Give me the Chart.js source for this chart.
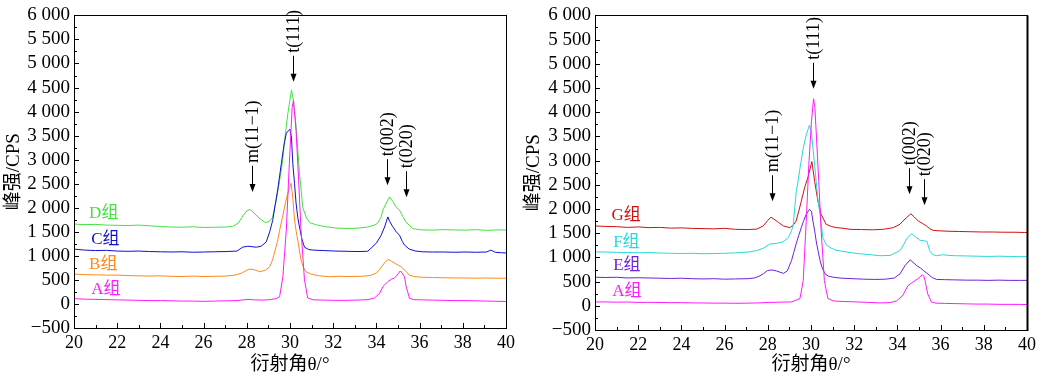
<!DOCTYPE html>
<html>
<head>
<meta charset="utf-8">
<script src="https://cdn.jsdelivr.net/npm/chart.js@4"></script>
<style>
  html, body { margin: 0; padding: 0; background: #fff; }
  body { width: 1046px; height: 376px; position: relative; overflow: hidden; }
  canvas { position: absolute; top: 0; }
  #leftChart { left: 0; }
  #rightChart { left: 520px; }
</style>
</head>
<body>
<canvas id="leftChart" width="520" height="376"></canvas>
<canvas id="rightChart" width="526" height="376"></canvas>
<script>
// XRD patterns
const FONT = "'Liberation Serif', 'Times New Roman', 'Noto Sans CJK SC', serif";

// left panel: A, B, C, D
const leftAX = [20,20.5,21,21.5,22,22.5,23,23.5,24,24.5, 25,25.5,26,26.5,27.04,27.55,28.05,28.36,28.76,29.06, 29.36,29.52,29.67,29.83,29.97,30.1,30.16,30.28,30.4,30.51, 30.67,30.82,31.08,31.58,32.09,32.59,33.1,33.6,33.9,34.15, 34.3,34.38,34.53,34.71,34.83,34.96,35.1,35.2,35.3,35.38, 35.45,35.53,35.72,36.12,36.6,37.1,37.6,38.1,38.6,39.1, 39.6,40];
const leftAY = [110,100,95,90,85,80,75,70,70,65, 60,60,55,60,65,70,95,85,80,90, 110,150,565,1535,2925,4090,4230,3610,2570,1535, 500,125,85,80,75,75,80,90,120,220, 360,395,465,520,535,600,685,640,565,360, 250,120,90,85,80,75,70,70,65,60, 55,50];

const leftBX = [20,20.5,21,21.5,22,22.5,23,23.5,24,24.5, 25,25.5,26,26.5,27.04,27.45,27.75,27.95,28.12,28.35, 28.59,28.86,29.06,29.18,29.28,29.42,29.52,29.65,29.75,29.87, 29.95,30.05,30.13,30.21,30.29,30.36,30.44,30.51,30.63,30.74, 30.98,31.28,31.82,32.29,32.79,33.3,33.7,33.99,34.16,34.3, 34.41,34.53,34.66,34.91,35.12,35.22,35.37,35.52,35.72,36.12, 36.6,37.1,37.6,38.1,38.6,39.1,39.6,40];
const leftBY = [620,610,605,600,600,590,585,580,585,575, 570,580,570,575,580,600,640,690,725,710, 670,700,775,900,1060,1300,1535,1800,2020,2250, 2365,2510,2200,1745,1500,1330,1100,915,750,670, 620,590,565,575,570,575,590,640,720,810, 870,925,900,830,780,740,680,600,570,555, 550,545,540,540,535,540,535,535];

const leftCX = [20,20.5,21,21.5,22,22.5,23,23.5,24,24.5, 25,25.5,26,26.5,27.04,27.55,27.8,28.05,28.25,28.45, 28.66,28.9,29.06,29.2,29.31,29.43,29.6,29.72,29.83,29.92, 30.0,30.07,30.13,30.21,30.28,30.36,30.44,30.55,30.67,30.87, 31.08,31.58,32.09,32.59,33.1,33.6,34.0,34.21,34.38,34.53, 34.61,34.76,34.92,35.07,35.2,35.3,35.52,35.82,36.12,36.6, 37.1,37.6,38.1,38.6,39.1,39.3,39.5,39.8,40];
const leftCY = [1140,1120,1110,1115,1100,1095,1100,1090,1085,1080, 1085,1075,1080,1085,1090,1100,1180,1200,1190,1180, 1200,1290,1500,1740,2050,2370,2925,3300,3550,3600, 3630,3450,2925,2500,2100,1800,1600,1350,1180,1130, 1120,1110,1100,1095,1090,1095,1265,1420,1600,1810, 1720,1605,1500,1430,1300,1225,1140,1100,1085,1080, 1080,1075,1080,1075,1080,1120,1075,1065,1060];

const leftDX = [20,20.5,21,21.5,22,22.5,23,23.5,24,24.5, 25,25.5,26,26.5,27.04,27.34,27.6,27.85,28.05,28.2, 28.4,28.61,28.86,29.06,29.19,29.36,29.52,29.65,29.75,29.9, 30.0,30.07,30.17,30.27,30.37,30.44,30.59,30.77,30.92,31.18, 31.59,32.09,32.59,33.1,33.6,33.91,34.06,34.21,34.3,34.46, 34.61,34.76,34.92,35.07,35.22,35.37,35.52,35.67,35.82,36.12, 36.6,37.1,37.6,38.1,38.6,39.1,39.6,40];
const leftDY = [1660,1650,1655,1640,1635,1630,1640,1625,1610,1600, 1595,1605,1590,1595,1600,1610,1680,1850,1960,1950, 1860,1770,1690,1720,1800,2150,2570,2950,3400,3960, 4250,4450,4200,3750,3150,2720,2010,1780,1690,1650, 1610,1580,1570,1575,1600,1640,1680,1800,1950,2100, 2225,2130,2010,1950,1820,1700,1640,1570,1555,1540, 1535,1545,1540,1535,1545,1530,1540,1535];

// right panel: A, E, F, G
const rightAX = [20,20.5,21,21.5,22,22.5,23,23.5,24,24.5, 25,25.5,26,26.5,27.08,27.59,28.09,28.6,29.1,29.49, 29.64,29.78,29.9,30.02,30.12,30.18,30.24,30.36,30.47,30.62, 30.78,31.03,31.43,32.14,32.65,33.15,33.66,33.96,34.25,34.49, 34.72,34.95,35.15,35.22,35.28,35.4,35.57,35.78,36.19,36.7, 37.2,37.7,38.2,38.7,39.2,39.7,40];
const rightAY = [80,80,75,78,70,72,68,65,65,60, 58,55,55,52,55,60,70,75,80,150, 520,1750,2915,3800,4280,4100,3600,2570,1550,520, 150,100,90,80,70,60,65,100,215,420, 490,560,640,620,520,250,80,55,50,45, 40,35,35,30,30,28,25];

const rightEX = [20,20.5,21,21.5,22,22.5,23,23.5,24,24.5, 25,25.5,26,26.5,27.08,27.38,27.59,27.79,27.99,28.19, 28.4,28.72,28.9,29.1,29.2,29.31,29.43,29.55,29.66,29.78, 29.93,30.02,30.09,30.17,30.24,30.32,30.42,30.52,30.65,30.82, 31.03,31.43,31.94,32.44,32.95,33.45,33.86,34.12,34.35,34.59, 34.72,34.89,35.07,35.2,35.35,35.49,35.63,35.81,36.19,36.69, 37.2,37.7,38.2,38.7,39.2,39.7,40];
const rightEY = [590,585,590,575,580,575,570,565,570,560, 555,560,550,555,560,575,610,660,730,740, 720,670,720,935,1100,1275,1450,1615,1760,1890, 1990,1950,1750,1550,1340,1150,935,780,660,610, 590,570,560,550,545,550,575,660,830,950, 900,830,780,730,680,625,580,545,540,535, 530,530,525,530,525,525,525];

const rightFX = [20,20.5,21,21.5,22,22.5,23,23.5,24,24.5, 25,25.5,26,26.5,27.08,27.49,27.79,28.09,28.4,28.7, 28.95,29.1,29.18,29.32,29.41,29.49,29.64,29.78,29.93,30.02, 30.09,30.17,30.24,30.32,30.42,30.55,30.72,30.88,31.13,31.53, 32.14,32.64,33.19,33.66,34.12,34.31,34.42,34.48,34.66,34.82, 35.04,35.22,35.37,35.49,35.63,35.81,36.11,36.39,36.69,37.2, 37.7,38.2,38.7,39.2,39.7,40];
const rightFY = [1115,1110,1105,1100,1095,1100,1090,1085,1080,1085, 1075,1080,1085,1095,1110,1140,1190,1275,1290,1320, 1410,1550,1685,2370,2600,2845,3255,3530,3735,3600, 3255,2900,2570,2200,1890,1410,1250,1205,1150,1120, 1080,1060,1035,1040,1140,1280,1380,1410,1490,1430, 1355,1345,1330,1140,1060,1035,1055,1040,1035,1030, 1025,1020,1025,1020,1015,1015];

const rightGX = [20,20.5,21,21.5,22,22.5,23,23.5,24,24.5, 25,25.5,26,26.5,27.08,27.49,27.79,27.99,28.14,28.29, 28.5,28.72,29.02,29.2,29.31,29.43,29.55,29.7,29.85,30.04, 30.17,30.32,30.47,30.7,30.93,31.17,31.53,31.81,32.34,32.85, 33.35,33.81,34.12,34.25,34.42,34.62,34.77,34.97,35.17,35.34, 35.48,35.64,35.88,36.39,36.89,37.4,37.9,38.4,38.9,39.4, 39.9,40];
const rightGY = [1650,1640,1635,1620,1630,1615,1620,1605,1610,1600, 1595,1590,1600,1580,1575,1585,1650,1760,1830,1790, 1720,1650,1615,1680,1750,1950,2160,2435,2640,2980, 2570,2160,1890,1685,1640,1615,1600,1580,1575,1570, 1580,1615,1685,1750,1820,1900,1840,1750,1700,1650, 1600,1560,1550,1540,1535,1530,1525,1525,1520,1520, 1515,1515];

// group names, colours and where their labels sit (data coords)
const leftNames = ['A组', 'B组', 'C组', 'D组'];
const leftColors = ['#ff1aff', '#ff8a1a', '#1010d0', '#44e044'];
const leftLabelX = [20.8, 20.7, 20.8, 20.7];
const leftLabelY = [290, 810, 1330, 1880];

const rightNames = ['A组', 'E组', 'F组', 'G组'];
const rightColors = ['#ff1aff', '#7020d8', '#2ad8d8', '#d01010'];
const rightLabelX = [20.8, 20.84, 20.84, 20.76];
const rightLabelY = [285, 830, 1310, 1855];

// peak markers: text, x, arrow tip value
const leftPeaks = [['m(11−1)', 28.22, 2330], ['t(111)', 30.12, 4620], ['t(002)', 34.47, 2470], ['t(020)', 35.39, 2220]];
const rightPeaks = [['m(11−1)', 28.18, 2160], ['t(111)', 30.08, 4485], ['t(002)', 34.55, 2305], ['t(020)', 35.23, 2080]];

function yLabel(v) {
  const s = Math.abs(v) >= 1000 ? String(Math.abs(v)).replace(/(\d)(\d{3})$/, '$1 $2') : String(Math.abs(v));
  return v < 0 ? '−' + s : s;
}

const decor = {
  id: 'decor',
  afterDraw(chart, args, opts) {
    const { ctx, chartArea: a, scales: { x, y } } = chart;
    ctx.save();
    ctx.strokeStyle = '#000';
    ctx.lineWidth = 1;
    ctx.strokeRect(Math.round(a.left) + 0.5, Math.round(a.top) + 0.5, Math.round(a.right - a.left), Math.round(a.bottom - a.top));
    if (opts.rightEdge) {
      ctx.lineWidth = opts.rightEdge;
      ctx.beginPath();
      ctx.moveTo(Math.round(a.right) + 0.5, a.top);
      ctx.lineTo(Math.round(a.right) + 0.5, a.bottom + 1);
      ctx.stroke();
      ctx.lineWidth = 1;
    }

    // inner ticks
    ctx.beginPath();
    for (let v = y.min; v <= y.max; v += 250) {
      const py = Math.round(y.getPixelForValue(v)) + 0.5;
      const len = v % 500 === 0 ? 5 : 3;
      ctx.moveTo(a.left, py); ctx.lineTo(a.left + len, py);
    }
    for (let v = x.min; v <= x.max; v += 1) {
      const px = Math.round(x.getPixelForValue(v)) + 0.5;
      const len = v % 2 === 0 ? 5 : 3;
      ctx.moveTo(px, a.bottom); ctx.lineTo(px, a.bottom - len);
    }
    ctx.stroke();

    // group labels
    ctx.font = '17px ' + FONT;
    ctx.textAlign = 'left';
    ctx.textBaseline = 'middle';
    opts.names.forEach((n, i) => {
      ctx.fillStyle = opts.colors[i];
      ctx.fillText(n, x.getPixelForValue(opts.labelX[i]), y.getPixelForValue(opts.labelY[i]));
    });

    // peak arrows
    ctx.fillStyle = '#000';
    ctx.font = '18px ' + FONT;
    opts.peaks.forEach(([txt, px0, v]) => {
      const px = Math.round(x.getPixelForValue(px0)) + 0.5;
      const tip = y.getPixelForValue(v);
      ctx.beginPath();
      ctx.moveTo(px, tip - 26); ctx.lineTo(px, tip - 6);
      ctx.stroke();
      ctx.beginPath();
      ctx.moveTo(px - 3, tip - 8); ctx.lineTo(px + 3, tip - 8); ctx.lineTo(px, tip);
      ctx.closePath();
      ctx.fill();
      ctx.save();
      ctx.translate(px + 1, tip - 29);
      ctx.rotate(-Math.PI / 2);
      ctx.textAlign = 'left';
      ctx.textBaseline = 'middle';
      ctx.fillText(txt, 0, 0);
      ctx.restore();
    });
    ctx.restore();
  }
};

function makeSet(xs, ys, color) {
  return {
    data: xs.map((v, i) => ({ x: v, y: ys[i] })),
    borderColor: color,
    borderWidth: 1,
    pointRadius: 0,
    fill: false,
    tension: 0
  };
}

function makeChart(id, sets, names, colors, labelX, labelY, peaks, pad) {
  const ctx = document.getElementById(id).getContext('2d');
  return new Chart(ctx, {
    type: 'line',
    data: { datasets: sets },
    options: {
      responsive: false,
      animation: false,
      layout: { padding: { left: pad.left, right: pad.right, top: pad.top, bottom: pad.bottom } },
      scales: {
        x: {
          type: 'linear',
          min: 20, max: 40,
          afterFit: s => { s.height = pad.xh; },
          grid: { display: false, drawTicks: false },
          border: { display: false },
          ticks: { stepSize: 2, autoSkip: false, maxRotation: 0, padding: 4, color: '#000', font: { family: FONT, size: 18 } },
          title: { display: true, text: '衍射角θ/°', color: '#000', font: { family: FONT, size: 19 }, padding: { top: 0, bottom: 0 } }
        },
        y: {
          min: -500, max: 6000,
          afterFit: s => { s.width = pad.yw; },
          grid: { display: false, drawTicks: false },
          border: { display: false },
          ticks: { stepSize: 500, autoSkip: false, padding: 4, color: '#000', font: { family: FONT, size: 19 }, callback: v => yLabel(v) },
          title: { display: true, text: '峰强/CPS', color: '#000', font: { family: FONT, size: 19 }, padding: { top: 3, bottom: 0 } }
        }
      },
      plugins: {
        legend: { display: false },
        tooltip: { enabled: false },
        decor: { names, colors, labelX, labelY, peaks, rightEdge: pad.edge }
      }
    },
    plugins: [decor]
  });
}

document.addEventListener('DOMContentLoaded', () => {
  makeChart('leftChart',
    [makeSet(leftAX, leftAY, leftColors[0]), makeSet(leftBX, leftBY, leftColors[1]),
     makeSet(leftCX, leftCY, leftColors[2]), makeSet(leftDX, leftDY, leftColors[3])],
    leftNames, leftColors, leftLabelX, leftLabelY, leftPeaks,
    { left: 0, right: 14, top: 14, bottom: 0, yw: 74, xh: 48, edge: 0 });

  makeChart('rightChart',
    [makeSet(rightAX, rightAY, rightColors[0]), makeSet(rightEX, rightEY, rightColors[1]),
     makeSet(rightFX, rightFY, rightColors[2]), makeSet(rightGX, rightGY, rightColors[3])],
    rightNames, rightColors, rightLabelX, rightLabelY, rightPeaks,
    { left: 0, right: 19, top: 13, bottom: 0, yw: 75, xh: 46, edge: 2 });
});
</script>
</body>
</html>
